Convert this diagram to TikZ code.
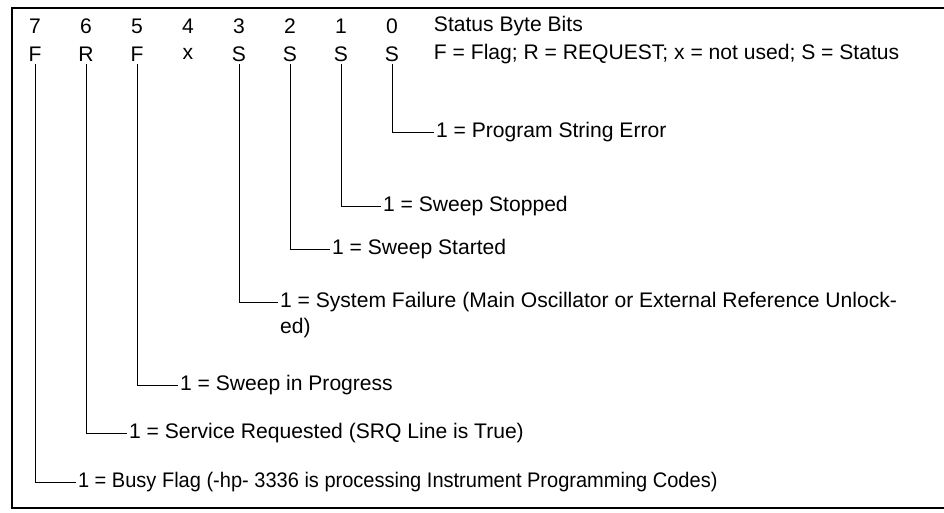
\documentclass[tikz,border=0pt]{standalone}
\usepackage{fontspec}
\setmainfont{Liberation Sans}
\usetikzlibrary{positioning}

\begin{document}
\begin{tikzpicture}[
    x=0.02cm, y=-0.02cm,
    every node/.style={font=\fontsize{12}{14}\selectfont},
    bit/.style={inner sep=1.5pt},
    lbl/.style={anchor=west, inner sep=1pt},
    lead/.style={line width=0.5pt},
    frame/.style={line width=0.7pt}
]
\useasboundingbox (0,0) rectangle (944,512);
\draw[frame] (944,8) -| (12,508) -- (944,508);
% bit numbers and field letters
\foreach \b/\f [count=\i from 0] in {7/F,6/R,5/F,4/x,3/S,2/S,1/S,0/S} {
  \node[bit] (d\b) at (35+51*\i,26) {\b};
  \node[bit] (f\b) at (35+51*\i,54) {\f};
}
\node[bit, anchor=west] (title) at (431,26) {Status Byte Bits};
\node[bit, anchor=west] (key) at (431,54) {F = Flag; R = REQUEST; x = not used; S = Status};
% meanings
\node[lbl] (l0) at (434,132) {1 = Program String Error};
\node[lbl] (l1) at (381,206) {1 = Sweep Stopped};
\node[lbl] (l2) at (330,249) {1 = Sweep Started};
\node[lbl] (l3) at (278,302) {1 = System Failure (Main Oscillator or External Reference Unlock-};
\node[lbl, below=1pt of l3.south west, anchor=north west] (l3x) {ed)};
\node[lbl] (l5) at (178,385) {1 = Sweep in Progress};
\node[lbl] (l6) at (127,433) {1 = Service Requested (SRQ Line is True)};
\node[lbl, xscale=0.95, transform shape] (l7) at (76,482) {1 = Busy Flag (-hp- 3336 is processing Instrument Programming Codes)};
\foreach \b in {0,1,2,3,5,6,7}
  \draw[lead] (f\b.south) |- (l\b.west);
\end{tikzpicture}
\end{document}
